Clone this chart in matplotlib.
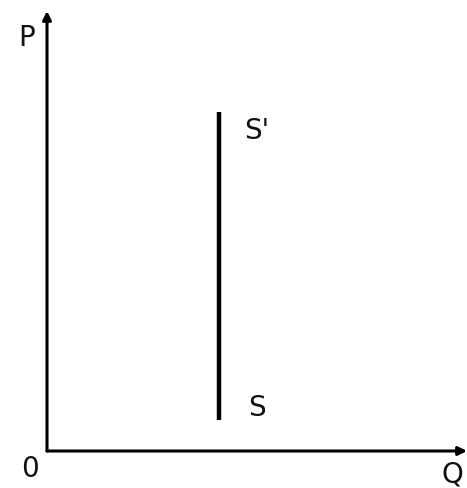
import matplotlib
matplotlib.use("Agg")
import matplotlib.pyplot as plt

# Data (quantity-price space, 0..100 units)
supply_quantity = [41, 41]
supply_price = [7, 77]
point_labels = ["S", "S'"]
axis_labels = ["P", "Q", "0"]

W, H = 467, 489
fig = plt.figure(figsize=(W / 100, H / 100), dpi=100)
ox, oy = 47, 452
ax = fig.add_axes([ox / W, (H - oy) / H, (W - ox) / W, (oy - 12) / H])
ax.set_xlim(0, 100)
ax.set_ylim(0, 100)
ax.axis("off")

# axes with arrows
arrow = dict(arrowstyle="-|>,head_length=0.5,head_width=0.25",
             lw=2.2, color="black", shrinkA=0, shrinkB=0)
ax.annotate("", xy=(0, 1.0), xytext=(0, 0), xycoords="axes fraction",
            arrowprops=arrow, annotation_clip=False)
ax.annotate("", xy=(1.0, 0), xytext=(0, 0), xycoords="axes fraction",
            arrowprops=arrow, annotation_clip=False)

# supply line
ax.plot(supply_quantity, supply_price, color="black", lw=3.2, solid_capstyle="butt")
tkw = dict(fontsize=20, ha="center", va="center", fontweight="normal",
           family="DejaVu Sans", color="#111111")
ax.text(supply_quantity[0] + 9, supply_price[0] + 3, point_labels[0], **tkw)
ax.text(supply_quantity[1] + 9, supply_price[1] - 4, point_labels[1], **tkw)

fig.text(27 / W, 1 - 38 / H, axis_labels[0], **tkw)
fig.text(452 / W, 1 - 475 / H, axis_labels[1], **tkw)
fig.text(30 / W, 1 - 469 / H, axis_labels[2], **tkw)

fig.savefig("out.png", dpi=100, facecolor="white")
